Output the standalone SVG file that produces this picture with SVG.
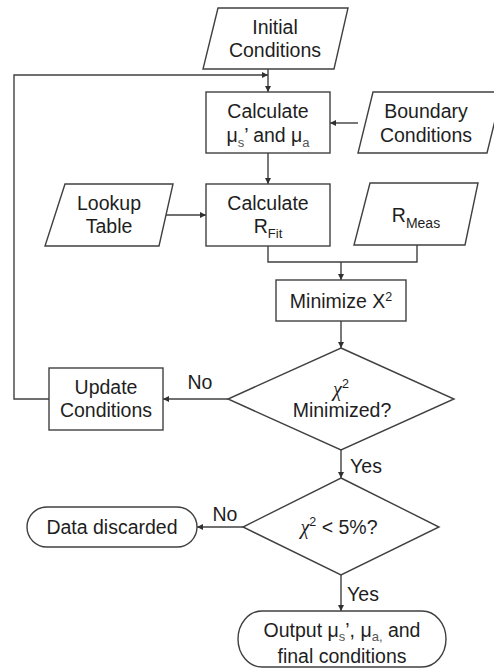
<svg xmlns="http://www.w3.org/2000/svg" width="494" height="672" viewBox="0 0 494 672">
<style>
.shape{fill:#fff;stroke:#404040;stroke-width:1.4}
.conn{fill:none;stroke:#404040;stroke-width:1.4}
text{font-family:"Liberation Sans",Arial,sans-serif;font-size:19.5px;fill:#1e1e1e;text-anchor:middle}
.sub{font-size:13px;fill:#555}
.sup{font-size:12.5px}
.chi{font-family:"Liberation Serif","DejaVu Serif",serif;font-style:italic;font-size:20px}
</style>
<defs>
<marker id="arr" viewBox="0 0 10 10" refX="10" refY="5" markerWidth="6" markerHeight="6" markerUnits="userSpaceOnUse" orient="auto">
<path d="M0,0 L10,5 L0,10 z" fill="#303030"/>
</marker>
</defs>
<rect width="494" height="672" fill="#fff"/>

<g id="connectors">
<path class="conn" d="M268,69 V92" marker-end="url(#arr)"/>
<path class="conn" d="M49,399 H14 V75 H268" marker-end="url(#arr)"/>
<path class="conn" d="M358,123 H330" marker-end="url(#arr)"/>
<path class="conn" d="M268,153 V184" marker-end="url(#arr)"/>
<path class="conn" d="M166,215 H206" marker-end="url(#arr)"/>
<path class="conn" d="M268,246 V262 H417 V245"/>
<path class="conn" d="M341,262 V280" marker-end="url(#arr)"/>
<path class="conn" d="M341,321 V348" marker-end="url(#arr)"/>
<path class="conn" d="M228,399 H163" marker-end="url(#arr)"/>
<path class="conn" d="M341,450 V478" marker-end="url(#arr)"/>
<path class="conn" d="M243,527 H197" marker-end="url(#arr)"/>
<path class="conn" d="M341,575 V611" marker-end="url(#arr)"/>
<text x="200" y="389">No</text>
<text x="225" y="521">No</text>
<text x="366" y="473">Yes</text>
<text x="363" y="601">Yes</text>
</g>

<g id="initial">
<polygon class="shape" points="218,8 348,8 334,69 203,69"/>
<text x="275" y="34">Initial</text>
<text x="275" y="57">Conditions</text>
</g>

<g id="calc-mu">
<rect class="shape" x="206" y="92" width="124" height="61"/>
<text x="268" y="118">Calculate</text>
<text x="268" y="142">μ<tspan class="sub" dy="5">s</tspan><tspan dy="-5">’ and μ</tspan><tspan class="sub" dy="5">a</tspan></text>
</g>

<g id="boundary">
<polygon class="shape" points="373,92 502,92 487,153 358,153"/>
<text x="426" y="118">Boundary</text>
<text x="426" y="142">Conditions</text>
</g>

<g id="lookup">
<polygon class="shape" points="65,184 173,184 159,246 45,246"/>
<text x="109" y="210">Lookup</text>
<text x="109" y="233">Table</text>
</g>

<g id="calc-rfit">
<rect class="shape" x="206" y="184" width="124" height="62"/>
<text x="268" y="210">Calculate</text>
<text x="268" y="233">R<tspan class="sub" dy="5" style="fill:#1e1e1e">Fit</tspan></text>
</g>

<g id="rmeas">
<polygon class="shape" points="370,183 478,183 465,245 354,245"/>
<text x="416" y="222">R<tspan class="sub" dy="6" style="fill:#1e1e1e;font-size:14px">Meas</tspan></text>
</g>

<g id="minimize">
<rect class="shape" x="276" y="280" width="130" height="41"/>
<text x="341" y="308">Minimize X<tspan class="sup" dy="-7">2</tspan></text>
</g>

<g id="decision1">
<polygon class="shape" points="341,348 454,399 341,450 228,399"/>
<text x="341" y="396"><tspan class="chi">χ</tspan><tspan class="sup" dy="-8">2</tspan></text>
<text x="342" y="417">Minimized?</text>
</g>

<g id="update">
<rect class="shape" x="49" y="368" width="114" height="62"/>
<text x="106" y="394">Update</text>
<text x="106" y="417">Conditions</text>
</g>

<g id="decision2">
<polygon class="shape" points="341,478 439,527 341,575 243,527"/>
<text x="339" y="534"><tspan class="chi">χ</tspan><tspan class="sup" dy="-8">2</tspan><tspan dy="8"> &lt; 5%?</tspan></text>
</g>

<g id="discarded">
<rect class="shape" x="27" y="507" width="170" height="40" rx="20" ry="20"/>
<text x="112" y="534">Data discarded</text>
</g>

<g id="output">
<rect class="shape" x="238" y="611" width="208" height="56" rx="24" ry="28"/>
<text x="342" y="637">Output μ<tspan class="sub" dy="4">s</tspan><tspan dy="-4">’, μ</tspan><tspan class="sub" dy="4">a,</tspan><tspan dy="-4"> and</tspan></text>
<text x="342" y="663">final conditions</text>
</g>
</svg>
